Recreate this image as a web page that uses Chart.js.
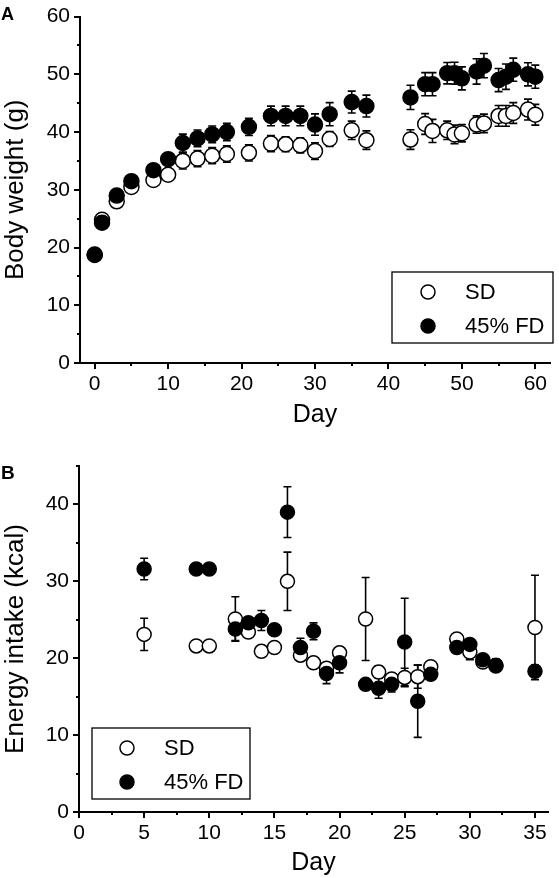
<!DOCTYPE html>
<html>
<head>
<meta charset="utf-8">
<script src="https://cdn.jsdelivr.net/npm/chart.js@4.4.0/dist/chart.umd.min.js"></script>
<style>
  html, body { margin:0; padding:0; background:#fff; }
  #wrap { position:relative; width:559px; height:878px; overflow:hidden; font-family:"Liberation Sans", Arial, sans-serif; }
  .panel { position:absolute; left:0; width:559px; }
  #pa { top:0; height:430px; }
  #pb { top:430px; height:448px; }
  .lbl { position:absolute; font-weight:bold; color:#000; line-height:1; }
</style>
</head>
<body>
<div id="wrap">
  <div class="panel" id="pa"><canvas id="ca"></canvas></div>
  <div class="panel" id="pb"><canvas id="cb"></canvas></div>
  <div class="lbl" id="la" style="left:1px; top:5px; font-size:18px;">A</div>
  <div class="lbl" id="lb" style="left:1px; top:463px; font-size:19px;">B</div>
</div>
<script>
// ---------- Panel A: body weight ----------
const daysA  = [0,1,3,5,8,10,12,14,16,18,21,24,26,28,30,32,35,37,43,45,46,48,49,50,52,53,55,56,57,59,60];
const sdA    = [18.7,24.8,28.0,30.5,31.7,32.6,35.0,35.4,35.9,36.2,36.4,38.0,37.9,37.7,36.7,38.8,40.3,38.6,38.7,41.4,40.2,40.3,39.6,39.8,41.3,41.5,42.8,42.8,43.3,43.9,43.0];
const sdErrA = [0.3,0.5,0.8,0.8,0.7,0.8,1.4,1.4,1.4,1.4,1.4,1.4,1.3,1.3,1.45,1.3,1.6,1.6,1.7,1.8,2.0,1.6,1.6,1.5,1.5,1.6,1.8,1.8,1.8,1.8,1.8];
const fdA    = [18.8,24.3,29.0,31.5,33.4,35.3,38.1,38.9,39.6,40.0,40.9,42.8,42.8,42.8,41.3,43.1,45.2,44.5,46.0,48.3,48.3,50.2,50.2,49.3,50.5,51.5,49.0,49.6,50.8,50.0,49.6];
const fdErrA = [0.3,0.6,0.8,0.8,0.8,1.0,1.55,1.45,1.45,1.5,1.5,1.7,1.7,1.7,1.85,2.0,1.9,1.9,2.1,2.0,2.0,1.85,1.9,2.0,2.2,2.1,2.0,2.2,2.0,2.0,2.0];
const xTicksA = [0,10,20,30,40,50,60];
const xMinorA = [5,15,25,35,45,55];
const yTicksA = [0,10,20,30,40,50,60];
const yMinorA = [5,15,25,35,45,55];

// ---------- Panel B: energy intake ----------
const daysB  = [5,9,10,12,13,14,15,16,17,18,19,20,22,23,24,25,26,27,29,30,31,32,35];
const sdB    = [23.1,21.6,21.6,25.1,23.4,20.9,21.4,30.0,20.4,19.4,18.7,20.7,25.1,18.2,17.3,17.5,17.6,18.9,22.5,20.8,19.5,19.0,24.0];
const sdErrB = [2.1,0.3,0.3,2.9,0.5,0.7,0.3,3.8,0.6,0.5,0.5,0.6,5.4,0.8,0.5,1.2,1.5,0.5,0.5,1.0,0.4,0.4,6.8];
const fdB    = [31.6,31.6,31.6,23.8,24.6,24.9,23.7,39.0,21.4,23.5,18.0,19.4,16.6,16.1,16.6,22.1,14.4,17.9,21.4,21.8,19.8,19.1,18.3];
const fdErrB = [1.4,0.3,0.3,1.5,0.5,1.3,0.5,3.3,1.2,1.1,1.3,1.3,0.4,1.3,1.0,5.7,4.7,0.5,0.5,0.5,0.5,0.8,0.8];
const xTicksB = [0,5,10,15,20,25,30,35];
const xMinorB = [2.5,7.5,12.5,17.5,22.5,27.5,32.5];
const yTicksB = [0,10,20,30,40];
const yMinorB = [5,15,25,35,45];

const seriesNames = ['SD', '45% FD'];

const FONT = '"Liberation Sans", Arial, sans-serif';

function pts(xs, ys, es) { return xs.map((x, i) => ({ x: x, y: ys[i], e: es[i] })); }

const errPlugin = {
  id: 'errbars',
  beforeDatasetsDraw(chart, args, opts) {
    const { ctx, scales: { x, y } } = chart;
    ctx.save();
    ctx.strokeStyle = '#000';
    ctx.lineWidth = 1.6;
    const cap = opts.cap || 4;
    chart.data.datasets.forEach(ds => {
      ds.data.forEach(p => {
        if (!p.e) return;
        const px = x.getPixelForValue(p.x);
        const t = y.getPixelForValue(p.y + p.e);
        const b = y.getPixelForValue(p.y - p.e);
        ctx.beginPath();
        ctx.moveTo(px, t); ctx.lineTo(px, b);
        ctx.moveTo(px - cap, t); ctx.lineTo(px + cap, t);
        ctx.moveTo(px - cap, b); ctx.lineTo(px + cap, b);
        ctx.stroke();
      });
    });
    ctx.restore();
  }
};

const minorPlugin = {
  id: 'minorticks',
  afterDraw(chart, args, opts) {
    const { ctx, scales: { x, y } } = chart;
    const len = opts.len || 3;
    ctx.save();
    ctx.strokeStyle = '#000';
    ctx.lineWidth = 2;
    ctx.beginPath();
    (opts.xMinor || []).forEach(v => {
      const px = Math.round(x.getPixelForValue(v)) + 0.0;
      ctx.moveTo(px, y.bottom); ctx.lineTo(px, y.bottom + len);
    });
    (opts.yMinor || []).forEach(v => {
      if (v > y.max) return;
      const py = Math.round(y.getPixelForValue(v));
      ctx.moveTo(x.left, py); ctx.lineTo(x.left - len, py);
    });
    ctx.stroke();
    ctx.restore();
  }
};

const legendPlugin = {
  id: 'boxlegend',
  afterDraw(chart, args, o) {
    const ctx = chart.ctx;
    ctx.save();
    ctx.strokeStyle = '#000';
    ctx.lineWidth = 1.3;
    ctx.strokeRect(o.box[0], o.box[1], o.box[2] - o.box[0], o.box[3] - o.box[1]);
    ctx.font = o.fontSize + 'px ' + FONT;
    ctx.fillStyle = '#000';
    ctx.textBaseline = 'middle';
    chart.data.datasets.slice().sort((a, b) => a.legendIndex - b.legendIndex).forEach((ds, i) => {
      const yy = o.rows[i];
      ctx.beginPath();
      ctx.arc(o.markerX, yy, o.r, 0, Math.PI * 2);
      ctx.fillStyle = ds.backgroundColor;
      ctx.fill();
      ctx.lineWidth = 1.5;
      ctx.strokeStyle = '#000';
      ctx.stroke();
      ctx.fillStyle = '#000';
      ctx.fillText(ds.label, o.textX, yy + 1);
    });
    ctx.restore();
  }
};

function axisCfg(ticksArr, min, max, titleText, isY, titleSize, fixedSize) {
  return {
    type: 'linear',
    min: min, max: max,
    afterBuildTicks: (s) => { s.ticks = ticksArr.map(v => ({ value: v })); },
    afterFit: (s) => { if (isY) s.width = fixedSize; else s.height = fixedSize; },
    grid: { display: true, drawOnChartArea: false, drawTicks: true, tickLength: 6, color: '#000', lineWidth: 2 },
    border: { display: true, color: '#000', width: 2 },
    ticks: { color: '#000', font: { family: FONT, size: 21 }, padding: isY ? 4 : 3, maxRotation: 0, autoSkip: false },
    title: { display: true, text: titleText, color: '#000', font: { family: FONT, size: titleSize }, padding: 0 }
  };
}

function makeChart(id, xs, sd, sdE, fd, fdE, cfg) {
  return new Chart(document.getElementById(id), {
    type: 'scatter',
    data: {
      datasets: [
        { label: seriesNames[1], legendIndex: 1, data: pts(xs, fd, fdE), backgroundColor: '#000', borderColor: '#000', borderWidth: 1.5, pointRadius: cfg.r, pointHoverRadius: cfg.r, order: 0 },
        { label: seriesNames[0], legendIndex: 0, data: pts(xs, sd, sdE), backgroundColor: '#fff', borderColor: '#000', borderWidth: 1.5, pointRadius: cfg.r, pointHoverRadius: cfg.r, order: 1 }
      ]
    },
    options: {
      responsive: true,
      maintainAspectRatio: false,
      animation: false,
      events: [],
      layout: { padding: cfg.padding },
      plugins: {
        legend: { display: false },
        tooltip: { enabled: false },
        errbars: { cap: 4 },
        minorticks: { xMinor: cfg.xMinor, yMinor: cfg.yMinor, len: 3 },
        boxlegend: cfg.legend
      },
      scales: {
        x: axisCfg(cfg.xTicks, cfg.xMin, cfg.xMax, 'Day', false, 25, cfg.xH),
        y: axisCfg(cfg.yTicks, cfg.yMin, cfg.yMax, cfg.yTitle, true, 26, cfg.yW)
      }
    },
    plugins: [errPlugin, minorPlugin, legendPlugin]
  });
}

makeChart('ca', daysA, sdA, sdErrA, fdA, fdErrA, {
  r: 7.5,
  padding: { top: 15, right: 2, left: 0, bottom: 0 },
  xTicks: xTicksA, xMinor: xMinorA, xMin: -2, xMax: 62, xH: 67,
  yTicks: yTicksA, yMinor: yMinorA, yMin: 0, yMax: 60, yW: 80,
  yTitle: 'Body weight (g)',
  legend: { box: [392, 272, 553, 343], rows: [292, 326], markerX: 428, textX: 465, r: 7, fontSize: 22 }
});

makeChart('cb', daysB, sdB, sdErrB, fdB, fdErrB, {
  r: 7,
  padding: { top: 36, right: 11, left: 0, bottom: 0 },
  xTicks: xTicksB, xMinor: xMinorB, xMin: 0, xMax: 36, xH: 66,
  yTicks: yTicksB, yMinor: yMinorB, yMin: 0, yMax: 45, yW: 79,
  yTitle: 'Energy intake (kcal)',
  legend: { box: [92, 298, 250, 369], rows: [318, 352], markerX: 127, textX: 164, r: 7, fontSize: 22 }
});
</script>
</body>
</html>
